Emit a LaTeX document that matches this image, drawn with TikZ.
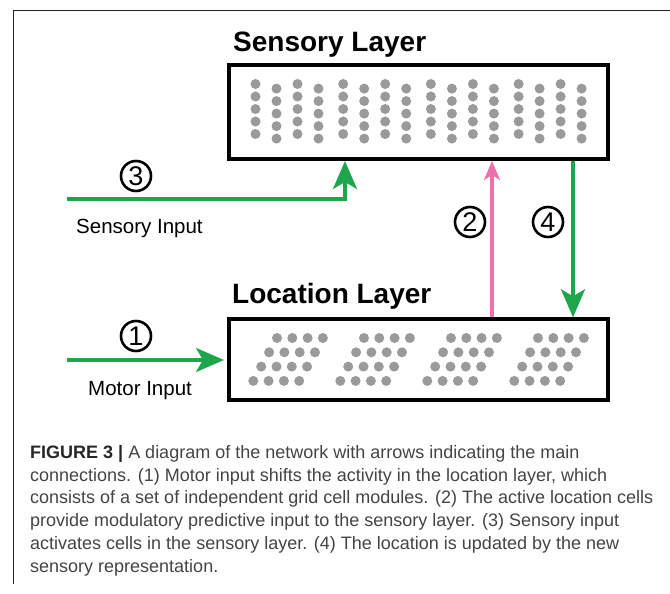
\documentclass[tikz,border=0pt]{standalone}
\usepackage{fontspec}
\setmainfont{Liberation Sans}
\usetikzlibrary{arrows.meta,positioning,calc}
\definecolor{CueGreen}{HTML}{1FA54C}
\definecolor{PredPink}{HTML}{EF70AA}
\definecolor{CellGrey}{HTML}{9A9A9A}
\definecolor{CapGrey}{HTML}{444444}
\definecolor{RuleGrey}{HTML}{222222}

\begin{document}
\begin{tikzpicture}[
  x=1pt,y=-1pt,
  every node/.style={inner sep=0pt,align=center},
  layer/.style={draw=black,line width=4pt,minimum width=379pt},
  ltitle/.style={font=\fontsize{28}{30}\selectfont\bfseries,anchor=base west},
  tag/.style={font=\fontsize{20.5}{22}\selectfont,anchor=west},
  num/.style={draw=black,circle,line width=2.6pt,minimum size=30pt,font=\fontsize{27}{27}\selectfont},
  cell/.style={fill=CellGrey,circle,minimum size=10pt},
  garr/.style={-{Stealth[length=28pt,width=24pt,inset=7pt]},line width=3.8pt,color=CueGreen},
  parr/.style={-{Stealth[length=19pt,width=16pt,inset=5pt]},line width=3.8pt,color=PredPink}
]
\useasboundingbox (0,0) rectangle (670,594);
% page rule
\draw[RuleGrey,line width=1pt] (13.5,584) -- (13.5,10.5) -- (670,10.5);

% the two layers
\node[layer,minimum height=94pt] (sens) at (418.5,112) {};
\node[layer,minimum height=81pt] (loc) at (418.5,359.8) {};
\node[ltitle] (senstitle) at ($(sens.north west)+(6,-11)$) {Sensory Layer};
\node[ltitle] (loctitle) at ($(loc.north west)+(5,-14)$) {Location Layer};

% sensory cells: 4 groups of 4 staggered columns
\foreach \g in {0,...,3}
  \foreach \c in {0,...,3}
    \foreach \r in {0,...,4}
      \node[cell] (s\g\c\r) at ($(sens.north west)+({28.5+87.7*\g+21*\c},{21+12.5*\r+4.6*mod(\c,2)})$) {};

% location cells: 4 skewed grid modules
\foreach \m in {0,...,3}
  \foreach \r in {0,...,3}
    \foreach \c in {0,...,3}
      \node[cell] (l\m\r\c) at ($(loc.north west)+({50+87*\m-7.9*\r+15.3*\c},{20.7+14.3*\r})$) {};

% inputs
\coordinate (sensin) at (67,199);
\coordinate (motorin) at (67,360);
\draw[garr] (sensin) -| ($(sens.south west)+(118,0)$);
\draw[garr,shorten >=3pt] (motorin) -- (motorin -| loc.west);
\node[tag] (senslbl) at ($(sensin)+(9,29.5)$) {Sensory Input};
\node[tag] (motorlbl) at ($(motorin)+(21,31)$) {Motor Input};

% between the layers
\coordinate (predfoot) at ($(loc.north west)+(265,0)$);
\coordinate (fbtop) at ($(sens.south west)+(346,0)$);
\draw[parr] (predfoot) -- (predfoot |- sens.south);
\draw[garr] (fbtop) -- (fbtop |- loc.north);

\node[num] (n1) at ($(motorin)+(69,-24)$) {1};
\node[num] (n3) at ($(sensin)+(69,-23)$) {3};
\node[num] (n2) at (470,222) {2};
\node[num] (n4) at (548,222) {4};

% caption
\node[anchor=north west,align=left,font=\fontsize{18}{22.8}\selectfont,text=CapGrey] (caption) at (30,445)
  {\textbf{\color{black!85}FIGURE 3 |} A diagram of the network with arrows indicating the main\\
   connections. (1) Motor input shifts the activity in the location layer, which\\
   consists of a set of independent grid cell modules. (2) The active location cells\\
   provide modulatory predictive input to the sensory layer. (3) Sensory input\\
   activates cells in the sensory layer. (4) The location is updated by the new\\
   sensory representation.};
\end{tikzpicture}
\end{document}
